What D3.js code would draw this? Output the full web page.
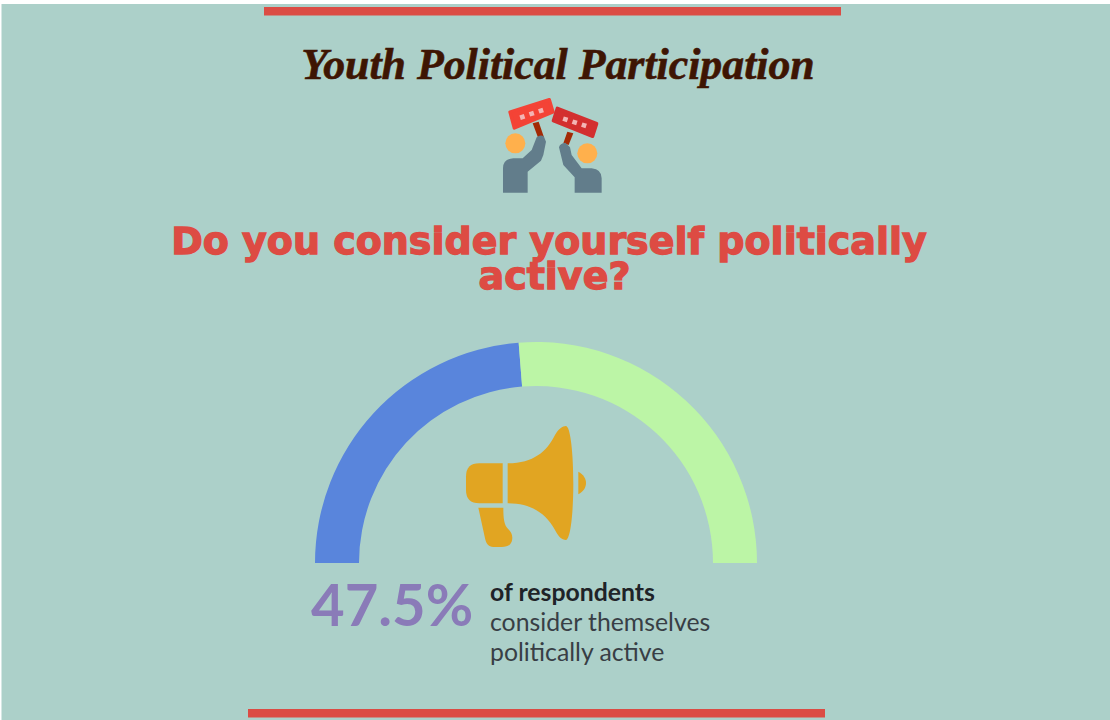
<!DOCTYPE html>
<html>
<head>
<meta charset="utf-8">
<script src="https://cdn.jsdelivr.net/npm/d3@7/dist/d3.min.js"></script>
<style>
  html, body { margin: 0; padding: 0; background: #fff; overflow: hidden; }
  svg { display: block; }
</style>
</head>
<body>
<svg id="chart" width="1110" height="720"></svg>
<script>
// Survey result
const answerLabels = ["Politically active", "Not politically active"];
const answerShares = [47.5, 52.5];
const answerColours = ["#5985DC", "#BCF5A6"];

const titleText = "Youth Political Participation";
const questionLines = ["Do you consider yourself politically", "active?"];
const shareLabel = "47.5%";
const captionLines = ["of respondents", "consider themselves", "politically active"];

const svg = d3.select("#chart");

// Page panel and the two accent rules
svg.append("rect").attr("x", 1.5).attr("y", 4).attr("width", 1108.5).attr("height", 716).attr("fill", "#ACD0C9");
svg.append("rect").attr("x", 264).attr("y", 7).attr("width", 577).attr("height", 8.5).attr("fill", "#DB4C44");
svg.append("rect").attr("x", 248).attr("y", 709).attr("width", 577).attr("height", 8.5).attr("fill", "#DB4C44");

// Headings
svg.append("text")
  .attr("x", 558).attr("y", 79)
  .attr("text-anchor", "middle")
  .attr("font-family", "'Liberation Serif', serif")
  .attr("font-style", "italic").attr("font-weight", 700)
  .attr("font-size", 43.8)
  .attr("fill", "#3E1503")
  .attr("stroke", "#3E1503").attr("stroke-width", 0.6)
  .text(titleText);

svg.append("g").selectAll("text").data(questionLines).join("text")
  .attr("x", (d, i) => i === 0 ? 549 : 554.5)
  .attr("y", (d, i) => 254 + i * 35)
  .attr("text-anchor", "middle")
  .attr("font-family", "'DejaVu Sans', sans-serif")
  .attr("font-weight", 700)
  .attr("font-size", 38)
  .attr("fill", "#DD4B43")
  .attr("stroke", "#DD4B43").attr("stroke-width", 1.3)
  .text(d => d);

// Two raised arms holding placards
const protest = svg.append("g").attr("transform", "translate(480,90) scale(0.3333)");
protest.append("path").attr("fill", "#A32A05").attr("d", "M158,100L176,95L192,142L176,148Z");
protest.append("path").attr("fill", "#A32A05").attr("d", "M262,125L280,130L266,165L250,160Z");
protest.append("path").attr("fill", "#F44336").attr("stroke", "#F44336").attr("stroke-width", 10).attr("stroke-linejoin", "round")
  .attr("d", "M90,66L208,29L219,66L103,114Z");
protest.append("path").attr("fill", "#D32F2F").attr("stroke", "#D32F2F").attr("stroke-width", 10).attr("stroke-linejoin", "round")
  .attr("d", "M232,55L350,101L338,139L220,92Z");
[[127, 81, -18], [155, 71, -18], [183, 62, -18], [256, 88, 18], [284, 97, 18], [312, 106, 18]].forEach(([x, y, a]) => {
  protest.append("rect").attr("x", -7).attr("y", -7).attr("width", 14).attr("height", 14)
    .attr("fill", "#F3B5B5")
    .attr("transform", `translate(${x},${y}) rotate(${a})`);
});
protest.append("circle").attr("cx", 106).attr("cy", 160).attr("r", 30).attr("fill", "#FFB04C");
protest.append("circle").attr("cx", 322).attr("cy", 190).attr("r", 30).attr("fill", "#FFB04C");
protest.append("path").attr("fill", "#627D8B")
  .attr("d", "M69,308L69,235Q69,207 100,205L128,205L155,180L170,142Q182,132 192,140L198,155L190,195L183,212L143,245L143,308Z");
protest.append("path").attr("fill", "#627D8B")
  .attr("d", "M284,308L284,262L250,225L237,172Q240,160 256,158L270,172L275,195L305,235L335,235Q365,238 365,265L365,308Z");

// Half-ring gauge: the shares are laid out across the upper half circle
const cx = 536, cy = 563, outerRadius = 221, innerRadius = 177;
const pie = d3.pie().sort(null).startAngle(-Math.PI / 2).endAngle(Math.PI / 2);
const arc = d3.arc().innerRadius(innerRadius).outerRadius(outerRadius);
svg.append("g").attr("transform", `translate(${cx},${cy})`)
  .selectAll("path").data(pie(answerShares)).join("path")
  .attr("d", arc)
  .attr("fill", (d, i) => answerColours[i])
  .append("title").text((d, i) => `${answerLabels[i]}: ${d.data}%`);

// Megaphone in the middle of the gauge
const megaphone = svg.append("g").attr("transform", "translate(450,415) scale(0.3333)").attr("fill", "#E1A522");
megaphone.append("path").attr("d", "M158,145L158,265L88,265Q48,265 48,225L48,185Q48,145 88,145Z");
megaphone.append("path").attr("d", "M173,145C250,145 290,110 315,60C325,42 338,33 348,33C362,35 370,120 370,205C370,290 362,372 348,375C335,375 325,365 315,345C290,300 250,265 173,265Z");
megaphone.append("path").attr("d", "M385,170C400,178 408,190 408,204C408,218 400,230 385,238Z");
megaphone.append("path").attr("d", "M85,278L160,278C160,310 162,330 175,343C185,352 190,365 185,380C180,392 170,396 155,396L130,396C115,396 108,385 105,370Z");

// Headline figure and its caption
svg.append("text")
  .attr("x", 311).attr("y", 626)
  .attr("font-family", "Lato, sans-serif")
  .attr("font-weight", 700)
  .attr("font-size", 58)
  .attr("fill", "#8A7BB8")
  .text(shareLabel);

svg.append("g").selectAll("text").data(captionLines).join("text")
  .attr("x", 490)
  .attr("y", (d, i) => 601 + i * 30)
  .attr("font-family", "Lato, sans-serif")
  .attr("font-weight", (d, i) => i === 0 ? 700 : 400)
  .attr("font-size", 24.8)
  .attr("fill", (d, i) => i === 0 ? "#1F2328" : "#383E45")
  .text(d => d);
</script>
</body>
</html>
